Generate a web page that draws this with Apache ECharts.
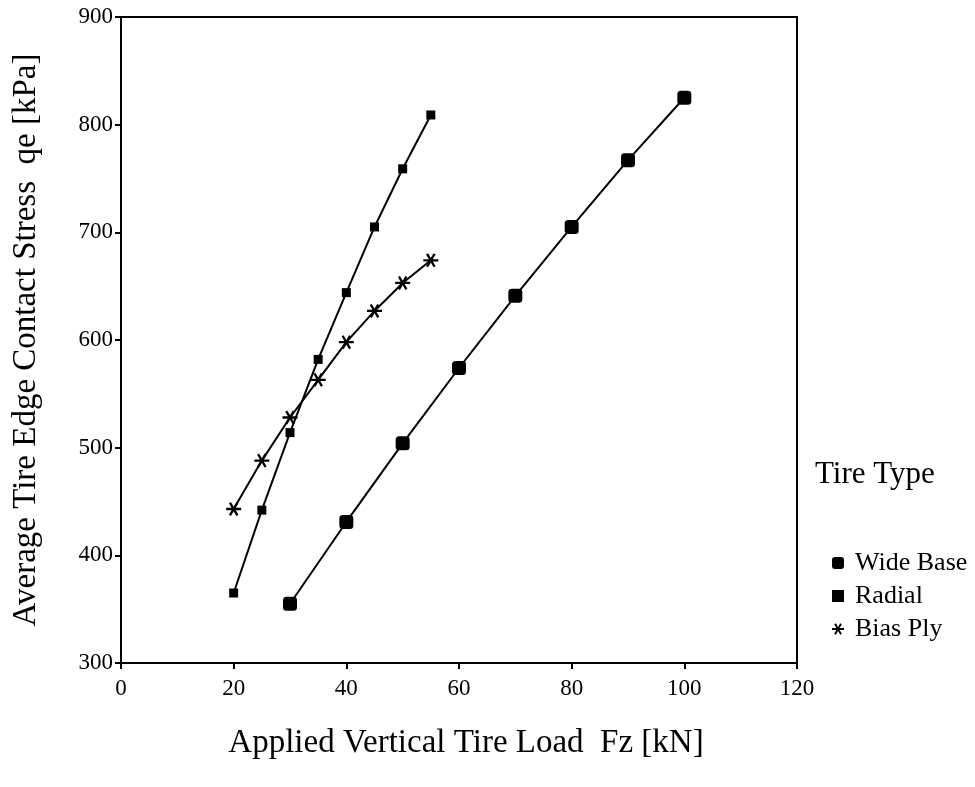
<!DOCTYPE html>
<html>
<head>
<meta charset="utf-8">
<script src="https://cdn.jsdelivr.net/npm/echarts@6/dist/echarts.min.js"></script>
<style>html,body{margin:0;padding:0;background:#fff}#c{width:975px;height:787px}</style>
</head>
<body>
<div id="c"></div>
<script>
const wideBaseX = [30, 40, 50, 60, 70, 80, 90, 100];
const wideBaseY = [355, 431, 504, 574, 641, 705, 767, 825];
const radialX = [20, 25, 30, 35, 40, 45, 50, 55];
const radialY = [365, 442, 514, 582, 644, 705, 759, 809];
const biasX = [20, 25, 30, 35, 40, 45, 50, 55];
const biasY = [443, 488, 528, 563, 598, 627, 653, 674];
const seriesNames = ['Wide Base', 'Radial', 'Bias Ply'];

const FONT = '"Liberation Serif", "Times New Roman", serif';
const ASTER = 'path://M-7,-1.1L7,-1.1L7,1.1L-7,1.1Z' +
  'M-2.547,-6.612L4.453,5.512L2.547,6.612L-4.453,-5.512Z' +
  'M4.453,-5.512L-2.547,6.612L-4.453,5.512L2.547,-6.612Z';

function pairs(xs, ys) { return xs.map((x, i) => [x, ys[i]]); }

const chart = echarts.init(document.getElementById('c'), null, {renderer: 'canvas'});
const axisCommon = {
  axisLine: {show: true, onZero: false, lineStyle: {color: '#000', width: 2}},
  axisTick: {show: true, inside: false, length: 6, lineStyle: {color: '#000', width: 2}},
  splitLine: {show: false},
  nameTextStyle: {fontFamily: FONT, fontSize: 33, color: '#000'},
  axisLabel: {fontFamily: FONT, fontSize: 23, color: '#000'}
};
chart.setOption({
  animation: false,
  backgroundColor: '#fff',
  grid: {left: 121, right: 178, top: 17, bottom: 124, show: true, borderColor: '#000', borderWidth: 2},
  title: {text: 'Tire Type', left: 810, top: 454, textStyle: {fontFamily: FONT, fontSize: 31, fontWeight: 'normal', color: '#000'}},
  legend: {
    orient: 'vertical', left: 827, top: 545, itemGap: 7, itemWidth: 12, itemHeight: 12,
    textStyle: {fontFamily: FONT, fontSize: 26, color: '#000', padding: [0, 0, 0, 6]},
    data: [
      {name: seriesNames[0], icon: 'roundRect', itemStyle: {color: '#000'}},
      {name: seriesNames[1], icon: 'rect', itemStyle: {color: '#000'}},
      {name: seriesNames[2], icon: ASTER, itemStyle: {color: '#000'}}
    ]
  },
  xAxis: Object.assign({}, axisCommon, {
    type: 'value', min: 0, max: 120, interval: 20,
    name: 'Applied Vertical Tire Load  Fz [kN]', nameLocation: 'middle', nameGap: 64,
    nameTextStyle: Object.assign({}, axisCommon.nameTextStyle, {padding: [0, 0, 0, 14]}),
    axisLabel: Object.assign({}, axisCommon.axisLabel, {margin: 14})
  }),
  yAxis: Object.assign({}, axisCommon, {
    type: 'value', min: 300, max: 900, interval: 100,
    name: 'Average Tire Edge Contact Stress  qe [kPa]', nameLocation: 'middle', nameGap: 78,
    axisLabel: Object.assign({}, axisCommon.axisLabel, {margin: 8})
  }),
  series: [
    {name: seriesNames[0], type: 'line', data: pairs(wideBaseX, wideBaseY), symbol: 'roundRect', symbolSize: 14,
     itemStyle: {color: '#000'}, lineStyle: {color: '#000', width: 2}},
    {name: seriesNames[1], type: 'line', data: pairs(radialX, radialY), symbol: 'rect', symbolSize: 9,
     itemStyle: {color: '#000'}, lineStyle: {color: '#000', width: 2}},
    {name: seriesNames[2], type: 'line', data: pairs(biasX, biasY), symbol: ASTER, symbolSize: [15, 14],
     itemStyle: {color: '#000'}, lineStyle: {color: '#000', width: 2}}
  ]
});
</script>
</body>
</html>
